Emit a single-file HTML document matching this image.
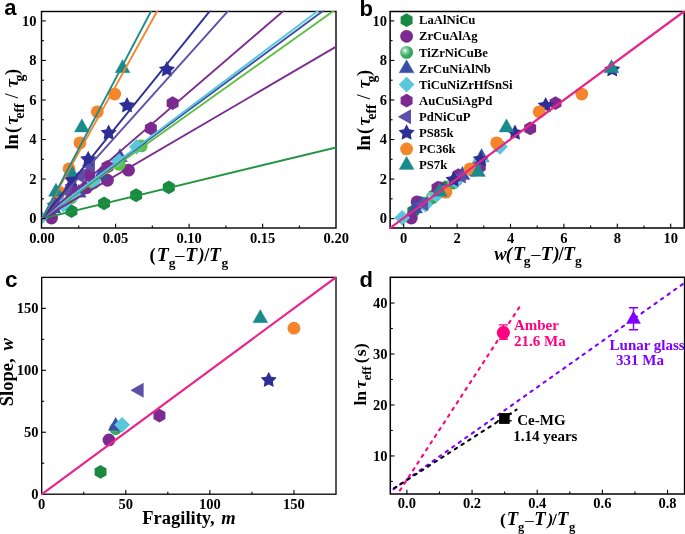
<!DOCTYPE html><html><head><meta charset="utf-8"><style>html,body{margin:0;padding:0;background:#fff;}svg{display:block;will-change:transform;}</style></head><body>
<svg width="685" height="534" viewBox="0 0 685 534">
<defs>
<radialGradient id="sph" cx="0.38" cy="0.36" r="0.7"><stop offset="0" stop-color="#ffffff"/><stop offset="0.25" stop-color="#8fd3a8"/><stop offset="0.6" stop-color="#3aab66"/><stop offset="1" stop-color="#2a9a58"/></radialGradient>
<clipPath id="ca"><rect x="41.5" y="11.5" width="294.5" height="216.5"/></clipPath>
<clipPath id="cb"><rect x="390.1" y="11.5" width="294.1" height="216.5"/></clipPath>
<clipPath id="cc"><rect x="41.7" y="277.4" width="294.3" height="216.8"/></clipPath>
<clipPath id="cd"><rect x="390.3" y="277.3" width="294.3" height="216.7"/></clipPath>
<clipPath id="ca2"><rect x="40.8" y="10.8" width="295.9" height="217.89999999999998"/></clipPath>
<clipPath id="cb2"><rect x="389.40000000000003" y="10.8" width="295.50000000000006" height="217.89999999999998"/></clipPath>
<clipPath id="cc2"><rect x="41.0" y="276.7" width="295.7" height="218.2"/></clipPath>
</defs>
<rect width="685" height="534" fill="#fff"/>
<g clip-path="url(#ca)">
<polygon points="71.42,204.19 65.44,207.64 65.44,214.54 71.42,217.99 77.40,214.54 77.40,207.64" fill="#1a8a42"/>
<polygon points="104.08,196.48 98.10,199.93 98.10,206.83 104.08,210.28 110.05,206.83 110.05,199.93" fill="#1a8a42"/>
<polygon points="136.14,188.37 130.17,191.82 130.17,198.72 136.14,202.17 142.12,198.72 142.12,191.82" fill="#1a8a42"/>
<polygon points="168.80,180.46 162.82,183.91 162.82,190.81 168.80,194.26 174.78,190.81 174.78,183.91" fill="#1a8a42"/>
<circle cx="51.56" cy="218.01" r="6.40" fill="#7b2a8f"/>
<circle cx="58.77" cy="201.80" r="6.40" fill="#7b2a8f"/>
<circle cx="86.42" cy="187.76" r="6.40" fill="#7b2a8f"/>
<circle cx="107.46" cy="180.25" r="6.40" fill="#7b2a8f"/>
<circle cx="128.49" cy="170.16" r="6.40" fill="#7b2a8f"/>
<circle cx="71.42" cy="197.84" r="6.40" fill="#5bbf3f"/>
<circle cx="93.49" cy="183.01" r="6.40" fill="#5bbf3f"/>
<circle cx="119.23" cy="164.43" r="6.40" fill="#5bbf3f"/>
<circle cx="141.29" cy="145.85" r="6.40" fill="#5bbf3f"/>
<polygon points="53.47,199.91 60.97,213.12 45.97,213.12" fill="#3a4ea6" stroke="#3a4ea6" stroke-width="0.3" stroke-linejoin="round"/>
<polygon points="59.65,195.96 67.15,209.16 52.15,209.16" fill="#3a4ea6" stroke="#3a4ea6" stroke-width="0.3" stroke-linejoin="round"/>
<polygon points="78.78,184.10 86.28,197.30 71.28,197.30" fill="#3a4ea6" stroke="#3a4ea6" stroke-width="0.3" stroke-linejoin="round"/>
<polygon points="100.84,166.31 108.34,179.51 93.34,179.51" fill="#3a4ea6" stroke="#3a4ea6" stroke-width="0.3" stroke-linejoin="round"/>
<polygon points="119.96,148.51 127.46,161.71 112.46,161.71" fill="#3a4ea6" stroke="#3a4ea6" stroke-width="0.3" stroke-linejoin="round"/>
<polygon points="40.53,209.91 48.43,217.81 40.53,225.71 32.63,217.81" fill="#5ac6dc"/>
<polygon points="63.33,196.66 71.23,204.56 63.33,212.46 55.43,204.56" fill="#5ac6dc"/>
<polygon points="74.36,186.98 82.26,194.88 74.36,202.78 66.46,194.88" fill="#5ac6dc"/>
<polygon points="93.49,173.14 101.39,181.04 93.49,188.94 85.59,181.04" fill="#5ac6dc"/>
<polygon points="117.90,151.98 125.80,159.88 117.90,167.78 110.00,159.88" fill="#5ac6dc"/>
<polygon points="136.73,138.93 144.63,146.83 136.73,154.73 128.83,146.83" fill="#5ac6dc"/>
<polygon points="71.13,181.06 65.15,184.51 65.15,191.41 71.13,194.86 77.10,191.41 77.10,184.51" fill="#7b2a8f"/>
<polygon points="89.07,168.21 83.10,171.66 83.10,178.56 89.07,182.01 95.05,178.56 95.05,171.66" fill="#7b2a8f"/>
<polygon points="107.46,159.90 101.48,163.35 101.48,170.25 107.46,173.70 113.44,170.25 113.44,163.35" fill="#7b2a8f"/>
<polygon points="150.85,121.55 144.88,125.00 144.88,131.90 150.85,135.35 156.83,131.90 156.83,125.00" fill="#7b2a8f"/>
<polygon points="172.62,96.24 166.65,99.69 166.65,106.59 172.62,110.04 178.60,106.59 178.60,99.69" fill="#7b2a8f"/>
<polygon points="46.44,203.77 59.64,196.27 59.64,211.27" fill="#5e4fa8"/>
<polygon points="58.21,190.92 71.41,183.42 71.41,198.42" fill="#5e4fa8"/>
<polygon points="71.45,176.09 84.65,168.59 84.65,183.59" fill="#5e4fa8"/>
<polygon points="81.74,165.81 94.94,158.31 94.94,173.31" fill="#5e4fa8"/>
<polygon points="71.86,171.35 69.28,176.29 63.78,177.22 67.68,181.21 66.87,186.73 71.86,184.25 76.86,186.73 76.05,181.21 79.95,177.22 74.45,176.29" fill="#2e2f94"/>
<polygon points="88.19,150.79 85.60,155.73 80.11,156.66 84.00,160.65 83.19,166.17 88.19,163.69 93.19,166.17 92.37,160.65 96.27,156.66 90.78,155.73" fill="#2e2f94"/>
<polygon points="108.64,124.50 106.05,129.44 100.55,130.37 104.45,134.36 103.64,139.87 108.64,137.40 113.63,139.87 112.82,134.36 116.72,130.37 111.22,129.44" fill="#2e2f94"/>
<polygon points="127.02,97.02 124.44,101.96 118.94,102.89 122.84,106.88 122.03,112.39 127.02,109.92 132.02,112.39 131.21,106.88 135.11,102.89 129.61,101.96" fill="#2e2f94"/>
<polygon points="166.89,61.03 164.30,65.97 158.80,66.91 162.70,70.89 161.89,76.41 166.89,73.93 171.88,76.41 171.07,70.89 174.97,66.91 169.47,65.97" fill="#2e2f94"/>
<circle cx="59.21" cy="192.11" r="6.40" fill="#f5852a"/>
<circle cx="69.07" cy="168.78" r="6.40" fill="#f5852a"/>
<circle cx="79.95" cy="142.88" r="6.40" fill="#f5852a"/>
<circle cx="97.31" cy="111.84" r="6.40" fill="#f5852a"/>
<circle cx="114.67" cy="94.05" r="6.40" fill="#f5852a"/>
<polygon points="55.97,183.11 63.47,196.31 48.47,196.31" fill="#1b8a8a" stroke="#1b8a8a" stroke-width="0.3" stroke-linejoin="round"/>
<polygon points="70.83,163.34 78.33,176.54 63.33,176.54" fill="#1b8a8a" stroke="#1b8a8a" stroke-width="0.3" stroke-linejoin="round"/>
<polygon points="81.86,118.86 89.36,132.06 74.36,132.06" fill="#1b8a8a" stroke="#1b8a8a" stroke-width="0.3" stroke-linejoin="round"/>
<polygon points="122.61,59.55 130.11,72.75 115.11,72.75" fill="#1b8a8a" stroke="#1b8a8a" stroke-width="0.3" stroke-linejoin="round"/>
</g>
<rect x="41.5" y="11.5" width="294.5" height="216.5" fill="none" stroke="#000" stroke-width="1.4"/>
<g clip-path="url(#ca2)">
<line x1="42.00" y1="218.60" x2="409.75" y2="129.63" stroke="#1f9440" stroke-width="1.9"/>
<line x1="42.00" y1="218.60" x2="409.75" y2="3.60" stroke="#7b2a8f" stroke-width="1.9"/>
<line x1="42.00" y1="218.60" x2="409.75" y2="-43.35" stroke="#5bbf3f" stroke-width="1.9"/>
<line x1="42.00" y1="218.60" x2="409.75" y2="-53.24" stroke="#3a4ea6" stroke-width="1.9"/>
<line x1="42.00" y1="218.60" x2="409.75" y2="-58.18" stroke="#5ac6dc" stroke-width="1.9"/>
<line x1="42.00" y1="218.60" x2="409.75" y2="-97.72" stroke="#7b2a8f" stroke-width="1.9"/>
<line x1="42.00" y1="218.60" x2="409.75" y2="-191.63" stroke="#5e4fa8" stroke-width="1.9"/>
<line x1="42.00" y1="218.60" x2="409.75" y2="-236.11" stroke="#2e2f94" stroke-width="1.9"/>
<line x1="42.00" y1="218.60" x2="409.75" y2="-443.69" stroke="#f5852a" stroke-width="1.9"/>
<line x1="42.00" y1="218.60" x2="409.75" y2="-480.76" stroke="#1b8a8a" stroke-width="1.9"/>
</g>
<line x1="115.55" y1="228.0" x2="115.55" y2="223.8" stroke="#000" stroke-width="1.1"/><line x1="189.10" y1="228.0" x2="189.10" y2="223.8" stroke="#000" stroke-width="1.1"/><line x1="262.65" y1="228.0" x2="262.65" y2="223.8" stroke="#000" stroke-width="1.1"/><line x1="78.78" y1="228.0" x2="78.78" y2="225.5" stroke="#000" stroke-width="1.1"/><line x1="152.32" y1="228.0" x2="152.32" y2="225.5" stroke="#000" stroke-width="1.1"/><line x1="225.88" y1="228.0" x2="225.88" y2="225.5" stroke="#000" stroke-width="1.1"/><line x1="299.43" y1="228.0" x2="299.43" y2="225.5" stroke="#000" stroke-width="1.1"/>
<line x1="41.5" y1="218.60" x2="45.7" y2="218.60" stroke="#000" stroke-width="1.1"/><line x1="41.5" y1="179.06" x2="45.7" y2="179.06" stroke="#000" stroke-width="1.1"/><line x1="41.5" y1="139.52" x2="45.7" y2="139.52" stroke="#000" stroke-width="1.1"/><line x1="41.5" y1="99.98" x2="45.7" y2="99.98" stroke="#000" stroke-width="1.1"/><line x1="41.5" y1="60.44" x2="45.7" y2="60.44" stroke="#000" stroke-width="1.1"/><line x1="41.5" y1="20.90" x2="45.7" y2="20.90" stroke="#000" stroke-width="1.1"/><line x1="41.5" y1="198.83" x2="44.0" y2="198.83" stroke="#000" stroke-width="1.1"/><line x1="41.5" y1="159.29" x2="44.0" y2="159.29" stroke="#000" stroke-width="1.1"/><line x1="41.5" y1="119.75" x2="44.0" y2="119.75" stroke="#000" stroke-width="1.1"/><line x1="41.5" y1="80.21" x2="44.0" y2="80.21" stroke="#000" stroke-width="1.1"/><line x1="41.5" y1="40.67" x2="44.0" y2="40.67" stroke="#000" stroke-width="1.1"/>
<text x="42.00" y="243.00" font-family='"Liberation Serif", serif' font-size="14.5" font-weight="bold" text-anchor="middle" fill="#000" >0.00</text>
<text x="115.55" y="243.00" font-family='"Liberation Serif", serif' font-size="14.5" font-weight="bold" text-anchor="middle" fill="#000" >0.05</text>
<text x="189.10" y="243.00" font-family='"Liberation Serif", serif' font-size="14.5" font-weight="bold" text-anchor="middle" fill="#000" >0.10</text>
<text x="262.65" y="243.00" font-family='"Liberation Serif", serif' font-size="14.5" font-weight="bold" text-anchor="middle" fill="#000" >0.15</text>
<text x="336.20" y="243.00" font-family='"Liberation Serif", serif' font-size="14.5" font-weight="bold" text-anchor="middle" fill="#000" >0.20</text>
<text x="36.50" y="223.20" font-family='"Liberation Serif", serif' font-size="14.5" font-weight="bold" text-anchor="end" fill="#000" >0</text>
<text x="36.50" y="183.66" font-family='"Liberation Serif", serif' font-size="14.5" font-weight="bold" text-anchor="end" fill="#000" >2</text>
<text x="36.50" y="144.12" font-family='"Liberation Serif", serif' font-size="14.5" font-weight="bold" text-anchor="end" fill="#000" >4</text>
<text x="36.50" y="104.58" font-family='"Liberation Serif", serif' font-size="14.5" font-weight="bold" text-anchor="end" fill="#000" >6</text>
<text x="36.50" y="65.04" font-family='"Liberation Serif", serif' font-size="14.5" font-weight="bold" text-anchor="end" fill="#000" >8</text>
<text x="36.50" y="25.50" font-family='"Liberation Serif", serif' font-size="14.5" font-weight="bold" text-anchor="end" fill="#000" >10</text>
<text x="149.39" y="260.60" font-family='"Liberation Serif", serif' font-size="18.5" font-weight="bold" font-style="normal" fill="#000">(</text><text x="156.63" y="260.60" font-family='"Liberation Serif", serif' font-size="19.5" font-weight="bold" font-style="italic" fill="#000">T</text><text x="168.74" y="266.80" font-family='"Liberation Serif", serif' font-size="13.5" font-weight="bold" font-style="normal" fill="#000">g</text><text x="175.33" y="260.60" font-family='"Liberation Serif", serif' font-size="18.5" font-weight="normal" font-style="normal" fill="#000">–</text><text x="185.28" y="260.60" font-family='"Liberation Serif", serif' font-size="19.5" font-weight="bold" font-style="italic" fill="#000">T</text><text x="198.58" y="260.60" font-family='"Liberation Serif", serif' font-size="18.5" font-weight="bold" font-style="italic" fill="#000">)</text><text x="204.18" y="260.60" font-family='"Liberation Serif", serif' font-size="18.5" font-weight="bold" font-style="normal" fill="#000">/</text><text x="209.08" y="260.60" font-family='"Liberation Serif", serif' font-size="19.5" font-weight="bold" font-style="italic" fill="#000">T</text><text x="221.44" y="266.80" font-family='"Liberation Serif", serif' font-size="13.5" font-weight="bold" font-style="normal" fill="#000">g</text>
<text transform="rotate(-90)" x="-149.56" y="18.00" font-family='"Liberation Serif", serif' font-size="18.5" font-weight="bold" font-style="normal" fill="#000">ln</text><text transform="rotate(-90)" x="-132.91" y="18.00" font-family='"Liberation Serif", serif' font-size="18.5" font-weight="bold" font-style="normal" fill="#000">(</text><text transform="rotate(-90)" x="-124.58" y="18.00" font-family='"Liberation Serif", serif' font-size="18.5" font-weight="bold" font-style="italic" fill="#000">τ</text><text transform="rotate(-90)" x="-118.78" y="23.70" font-family='"Liberation Serif", serif' font-size="14" font-weight="bold" font-style="normal" fill="#000">eff</text><text transform="rotate(-90)" x="-98.50" y="18.00" font-family='"Liberation Serif", serif' font-size="18.5" font-weight="normal" font-style="normal" fill="#000">/</text><text transform="rotate(-90)" x="-87.18" y="18.00" font-family='"Liberation Serif", serif' font-size="18.5" font-weight="bold" font-style="italic" fill="#000">τ</text><text transform="rotate(-90)" x="-81.47" y="23.70" font-family='"Liberation Serif", serif' font-size="14" font-weight="bold" font-style="normal" fill="#000">g</text><text transform="rotate(-90)" x="-75.00" y="18.00" font-family='"Liberation Serif", serif' font-size="18.5" font-weight="bold" font-style="normal" fill="#000">)</text>
<text x="4.30" y="15.10" font-family='"Liberation Sans", sans-serif' font-size="22" font-weight="bold" text-anchor="start" fill="#000" >a</text>
<g clip-path="url(#cb)">
<polygon points="413.31,204.19 407.34,207.64 407.34,214.54 413.31,217.99 419.29,214.54 419.29,207.64" fill="#1a8a42"/>
<polygon points="423.98,196.48 418.01,199.93 418.01,206.83 423.98,210.28 429.96,206.83 429.96,199.93" fill="#1a8a42"/>
<polygon points="434.46,188.37 428.48,191.82 428.48,198.72 434.46,202.17 440.43,198.72 440.43,191.82" fill="#1a8a42"/>
<polygon points="445.13,180.46 439.15,183.91 439.15,190.81 445.13,194.26 451.10,190.81 451.10,183.91" fill="#1a8a42"/>
<circle cx="411.34" cy="218.01" r="6.40" fill="#7b2a8f"/>
<circle cx="417.09" cy="201.80" r="6.40" fill="#7b2a8f"/>
<circle cx="439.18" cy="187.76" r="6.40" fill="#7b2a8f"/>
<circle cx="455.98" cy="180.25" r="6.40" fill="#7b2a8f"/>
<circle cx="472.78" cy="170.16" r="6.40" fill="#7b2a8f"/>
<circle cx="432.00" cy="197.84" r="6.40" fill="url(#sph)"/>
<circle cx="453.23" cy="183.01" r="6.40" fill="url(#sph)"/>
<circle cx="477.99" cy="164.43" r="6.40" fill="url(#sph)"/>
<circle cx="499.22" cy="145.85" r="6.40" fill="url(#sph)"/>
<polygon points="415.15,199.91 422.65,213.12 407.65,213.12" fill="#3a4ea6" stroke="#3a4ea6" stroke-width="0.3" stroke-linejoin="round"/>
<polygon points="421.32,195.96 428.82,209.16 413.82,209.16" fill="#3a4ea6" stroke="#3a4ea6" stroke-width="0.3" stroke-linejoin="round"/>
<polygon points="440.41,184.10 447.91,197.30 432.91,197.30" fill="#3a4ea6" stroke="#3a4ea6" stroke-width="0.3" stroke-linejoin="round"/>
<polygon points="462.44,166.31 469.94,179.51 454.94,179.51" fill="#3a4ea6" stroke="#3a4ea6" stroke-width="0.3" stroke-linejoin="round"/>
<polygon points="481.53,148.51 489.03,161.71 474.03,161.71" fill="#3a4ea6" stroke="#3a4ea6" stroke-width="0.3" stroke-linejoin="round"/>
<polygon points="402.20,209.91 410.10,217.81 402.20,225.71 394.30,217.81" fill="#5ac6dc"/>
<polygon points="425.38,196.66 433.28,204.56 425.38,212.46 417.48,204.56" fill="#5ac6dc"/>
<polygon points="436.59,186.98 444.49,194.88 436.59,202.78 428.69,194.88" fill="#5ac6dc"/>
<polygon points="456.03,173.14 463.93,181.04 456.03,188.94 448.13,181.04" fill="#5ac6dc"/>
<polygon points="480.85,151.98 488.75,159.88 480.85,167.78 472.95,159.88" fill="#5ac6dc"/>
<polygon points="499.99,138.93 507.89,146.83 499.99,154.73 492.09,146.83" fill="#5ac6dc"/>
<polygon points="437.53,181.06 431.56,184.51 431.56,191.41 437.53,194.86 443.51,191.41 443.51,184.51" fill="#7b2a8f"/>
<polygon points="458.38,168.21 452.41,171.66 452.41,178.56 458.38,182.01 464.36,178.56 464.36,171.66" fill="#7b2a8f"/>
<polygon points="479.74,159.90 473.77,163.35 473.77,170.25 479.74,173.70 485.72,170.25 485.72,163.35" fill="#7b2a8f"/>
<polygon points="530.15,121.55 524.18,125.00 524.18,131.90 530.15,135.35 536.13,131.90 536.13,125.00" fill="#7b2a8f"/>
<polygon points="555.44,96.24 549.47,99.69 549.47,106.59 555.44,110.04 561.42,106.59 561.42,99.69" fill="#7b2a8f"/>
<polygon points="414.84,203.77 428.04,196.27 428.04,211.27" fill="#5e4fa8"/>
<polygon points="432.57,190.92 445.77,183.42 445.77,198.42" fill="#5e4fa8"/>
<polygon points="452.52,176.09 465.72,168.59 465.72,183.59" fill="#5e4fa8"/>
<polygon points="468.03,165.81 481.23,158.31 481.23,173.31" fill="#5e4fa8"/>
<polygon points="453.56,171.35 450.98,176.29 445.48,177.22 449.38,181.21 448.57,186.73 453.56,184.25 458.56,186.73 457.75,181.21 461.65,177.22 456.15,176.29" fill="#2e2f94"/>
<polygon points="480.83,150.79 478.24,155.73 472.75,156.66 476.65,160.65 475.83,166.17 480.83,163.69 485.83,166.17 485.02,160.65 488.91,156.66 483.42,155.73" fill="#2e2f94"/>
<polygon points="514.97,124.50 512.39,129.44 506.89,130.37 510.79,134.36 509.98,139.87 514.97,137.40 519.97,139.87 519.16,134.36 523.06,130.37 517.56,129.44" fill="#2e2f94"/>
<polygon points="545.68,97.02 543.09,101.96 537.60,102.89 541.50,106.88 540.68,112.39 545.68,109.92 550.68,112.39 549.86,106.88 553.76,102.89 548.27,101.96" fill="#2e2f94"/>
<polygon points="612.25,61.03 609.66,65.97 604.16,66.91 608.06,70.89 607.25,76.41 612.25,73.93 617.24,76.41 616.43,70.89 620.33,66.91 614.83,65.97" fill="#2e2f94"/>
<circle cx="445.87" cy="192.11" r="6.40" fill="#f5852a"/>
<circle cx="470.02" cy="168.78" r="6.40" fill="#f5852a"/>
<circle cx="496.70" cy="142.88" r="6.40" fill="#f5852a"/>
<circle cx="539.23" cy="111.84" r="6.40" fill="#f5852a"/>
<circle cx="581.76" cy="94.05" r="6.40" fill="#f5852a"/>
<polygon points="439.72,183.11 447.22,196.31 432.22,196.31" fill="#1b8a8a" stroke="#1b8a8a" stroke-width="0.3" stroke-linejoin="round"/>
<polygon points="478.01,163.34 485.51,176.54 470.51,176.54" fill="#1b8a8a" stroke="#1b8a8a" stroke-width="0.3" stroke-linejoin="round"/>
<polygon points="506.45,118.86 513.95,132.06 498.95,132.06" fill="#1b8a8a" stroke="#1b8a8a" stroke-width="0.3" stroke-linejoin="round"/>
<polygon points="611.47,59.55 618.97,72.75 603.97,72.75" fill="#1b8a8a" stroke="#1b8a8a" stroke-width="0.3" stroke-linejoin="round"/>
</g>
<rect x="390.1" y="11.5" width="294.1" height="216.5" fill="none" stroke="#000" stroke-width="1.5"/>
<line x1="389.40" y1="228.50" x2="684.70" y2="11.00" stroke="#e9248b" stroke-width="2.2" clip-path="url(#cb2)"/>
<line x1="403.70" y1="228.0" x2="403.70" y2="223.8" stroke="#000" stroke-width="1.1"/><line x1="457.10" y1="228.0" x2="457.10" y2="223.8" stroke="#000" stroke-width="1.1"/><line x1="510.50" y1="228.0" x2="510.50" y2="223.8" stroke="#000" stroke-width="1.1"/><line x1="563.90" y1="228.0" x2="563.90" y2="223.8" stroke="#000" stroke-width="1.1"/><line x1="617.30" y1="228.0" x2="617.30" y2="223.8" stroke="#000" stroke-width="1.1"/><line x1="670.70" y1="228.0" x2="670.70" y2="223.8" stroke="#000" stroke-width="1.1"/><line x1="430.40" y1="228.0" x2="430.40" y2="225.5" stroke="#000" stroke-width="1.1"/><line x1="483.80" y1="228.0" x2="483.80" y2="225.5" stroke="#000" stroke-width="1.1"/><line x1="537.20" y1="228.0" x2="537.20" y2="225.5" stroke="#000" stroke-width="1.1"/><line x1="590.60" y1="228.0" x2="590.60" y2="225.5" stroke="#000" stroke-width="1.1"/><line x1="644.00" y1="228.0" x2="644.00" y2="225.5" stroke="#000" stroke-width="1.1"/>
<line x1="390.1" y1="218.60" x2="394.3" y2="218.60" stroke="#000" stroke-width="1.1"/><line x1="390.1" y1="179.06" x2="394.3" y2="179.06" stroke="#000" stroke-width="1.1"/><line x1="390.1" y1="139.52" x2="394.3" y2="139.52" stroke="#000" stroke-width="1.1"/><line x1="390.1" y1="99.98" x2="394.3" y2="99.98" stroke="#000" stroke-width="1.1"/><line x1="390.1" y1="60.44" x2="394.3" y2="60.44" stroke="#000" stroke-width="1.1"/><line x1="390.1" y1="20.90" x2="394.3" y2="20.90" stroke="#000" stroke-width="1.1"/><line x1="390.1" y1="198.83" x2="392.6" y2="198.83" stroke="#000" stroke-width="1.1"/><line x1="390.1" y1="159.29" x2="392.6" y2="159.29" stroke="#000" stroke-width="1.1"/><line x1="390.1" y1="119.75" x2="392.6" y2="119.75" stroke="#000" stroke-width="1.1"/><line x1="390.1" y1="80.21" x2="392.6" y2="80.21" stroke="#000" stroke-width="1.1"/><line x1="390.1" y1="40.67" x2="392.6" y2="40.67" stroke="#000" stroke-width="1.1"/>
<text x="403.70" y="243.00" font-family='"Liberation Serif", serif' font-size="14.5" font-weight="bold" text-anchor="middle" fill="#000" >0</text>
<text x="387.00" y="223.20" font-family='"Liberation Serif", serif' font-size="14.5" font-weight="bold" text-anchor="end" fill="#000" >0</text>
<text x="457.10" y="243.00" font-family='"Liberation Serif", serif' font-size="14.5" font-weight="bold" text-anchor="middle" fill="#000" >2</text>
<text x="387.00" y="183.66" font-family='"Liberation Serif", serif' font-size="14.5" font-weight="bold" text-anchor="end" fill="#000" >2</text>
<text x="510.50" y="243.00" font-family='"Liberation Serif", serif' font-size="14.5" font-weight="bold" text-anchor="middle" fill="#000" >4</text>
<text x="387.00" y="144.12" font-family='"Liberation Serif", serif' font-size="14.5" font-weight="bold" text-anchor="end" fill="#000" >4</text>
<text x="563.90" y="243.00" font-family='"Liberation Serif", serif' font-size="14.5" font-weight="bold" text-anchor="middle" fill="#000" >6</text>
<text x="387.00" y="104.58" font-family='"Liberation Serif", serif' font-size="14.5" font-weight="bold" text-anchor="end" fill="#000" >6</text>
<text x="617.30" y="243.00" font-family='"Liberation Serif", serif' font-size="14.5" font-weight="bold" text-anchor="middle" fill="#000" >8</text>
<text x="387.00" y="65.04" font-family='"Liberation Serif", serif' font-size="14.5" font-weight="bold" text-anchor="end" fill="#000" >8</text>
<text x="670.70" y="243.00" font-family='"Liberation Serif", serif' font-size="14.5" font-weight="bold" text-anchor="middle" fill="#000" >10</text>
<text x="387.00" y="25.50" font-family='"Liberation Serif", serif' font-size="14.5" font-weight="bold" text-anchor="end" fill="#000" >10</text>
<polygon points="406.60,13.30 400.62,16.75 400.62,23.65 406.60,27.10 412.58,23.65 412.58,16.75" fill="#1a8a42"/>
<text x="419.00" y="24.40" font-family='"Liberation Serif", serif' font-size="12.7" font-weight="bold" text-anchor="start" fill="#000" >LaAlNiCu</text>
<circle cx="406.60" cy="36.29" r="6.40" fill="#7b2a8f"/>
<text x="419.00" y="40.49" font-family='"Liberation Serif", serif' font-size="12.7" font-weight="bold" text-anchor="start" fill="#000" >ZrCuAlAg</text>
<circle cx="406.60" cy="52.38" r="6.40" fill="url(#sph)"/>
<text x="419.00" y="56.58" font-family='"Liberation Serif", serif' font-size="12.7" font-weight="bold" text-anchor="start" fill="#000" >TiZrNiCuBe</text>
<polygon points="406.60,59.67 414.10,72.87 399.10,72.87" fill="#3a4ea6" stroke="#3a4ea6" stroke-width="0.3" stroke-linejoin="round"/>
<text x="419.00" y="72.67" font-family='"Liberation Serif", serif' font-size="12.7" font-weight="bold" text-anchor="start" fill="#000" >ZrCuNiAlNb</text>
<polygon points="406.60,76.66 414.50,84.56 406.60,92.46 398.70,84.56" fill="#5ac6dc"/>
<text x="419.00" y="88.76" font-family='"Liberation Serif", serif' font-size="12.7" font-weight="bold" text-anchor="start" fill="#000" >TiCuNiZrHfSnSi</text>
<polygon points="406.60,93.75 400.62,97.20 400.62,104.10 406.60,107.55 412.58,104.10 412.58,97.20" fill="#7b2a8f"/>
<text x="419.00" y="104.85" font-family='"Liberation Serif", serif' font-size="12.7" font-weight="bold" text-anchor="start" fill="#000" >AuCuSiAgPd</text>
<polygon points="397.80,116.74 411.00,109.24 411.00,124.24" fill="#5e4fa8"/>
<text x="419.00" y="120.94" font-family='"Liberation Serif", serif' font-size="12.7" font-weight="bold" text-anchor="start" fill="#000" >PdNiCuP</text>
<polygon points="406.60,124.33 404.01,129.27 398.52,130.20 402.42,134.19 401.60,139.71 406.60,137.23 411.60,139.71 410.78,134.19 414.68,130.20 409.19,129.27" fill="#2e2f94"/>
<text x="419.00" y="137.03" font-family='"Liberation Serif", serif' font-size="12.7" font-weight="bold" text-anchor="start" fill="#000" >PS85k</text>
<circle cx="406.60" cy="148.92" r="6.40" fill="#f5852a"/>
<text x="419.00" y="153.12" font-family='"Liberation Serif", serif' font-size="12.7" font-weight="bold" text-anchor="start" fill="#000" >PC36k</text>
<polygon points="406.60,156.21 414.10,169.41 399.10,169.41" fill="#1b8a8a" stroke="#1b8a8a" stroke-width="0.3" stroke-linejoin="round"/>
<text x="419.00" y="169.21" font-family='"Liberation Serif", serif' font-size="12.7" font-weight="bold" text-anchor="start" fill="#000" >PS7k</text>
<text x="494.28" y="259.70" font-family='"Liberation Serif", serif' font-size="18.5" font-weight="bold" font-style="italic" fill="#000">w</text><text x="505.79" y="259.70" font-family='"Liberation Serif", serif' font-size="18.5" font-weight="bold" font-style="italic" fill="#000">(</text><text x="512.98" y="259.70" font-family='"Liberation Serif", serif' font-size="19.5" font-weight="bold" font-style="italic" fill="#000">T</text><text x="523.84" y="265.00" font-family='"Liberation Serif", serif' font-size="13.5" font-weight="bold" font-style="normal" fill="#000">g</text><text x="531.33" y="259.70" font-family='"Liberation Serif", serif' font-size="18.5" font-weight="normal" font-style="normal" fill="#000">–</text><text x="540.68" y="259.70" font-family='"Liberation Serif", serif' font-size="19.5" font-weight="bold" font-style="italic" fill="#000">T</text><text x="553.58" y="259.70" font-family='"Liberation Serif", serif' font-size="18.5" font-weight="bold" font-style="italic" fill="#000">)</text><text x="558.48" y="259.70" font-family='"Liberation Serif", serif' font-size="18.5" font-weight="bold" font-style="normal" fill="#000">/</text><text x="563.08" y="259.70" font-family='"Liberation Serif", serif' font-size="19.5" font-weight="bold" font-style="italic" fill="#000">T</text><text x="575.04" y="265.00" font-family='"Liberation Serif", serif' font-size="13.5" font-weight="bold" font-style="normal" fill="#000">g</text>
<text transform="rotate(-90)" x="-150.56" y="370.40" font-family='"Liberation Serif", serif' font-size="18.5" font-weight="bold" font-style="normal" fill="#000">ln</text><text transform="rotate(-90)" x="-133.91" y="370.40" font-family='"Liberation Serif", serif' font-size="18.5" font-weight="bold" font-style="normal" fill="#000">(</text><text transform="rotate(-90)" x="-125.58" y="370.40" font-family='"Liberation Serif", serif' font-size="18.5" font-weight="bold" font-style="italic" fill="#000">τ</text><text transform="rotate(-90)" x="-119.78" y="376.10" font-family='"Liberation Serif", serif' font-size="14" font-weight="bold" font-style="normal" fill="#000">eff</text><text transform="rotate(-90)" x="-99.50" y="370.40" font-family='"Liberation Serif", serif' font-size="18.5" font-weight="normal" font-style="normal" fill="#000">/</text><text transform="rotate(-90)" x="-88.18" y="370.40" font-family='"Liberation Serif", serif' font-size="18.5" font-weight="bold" font-style="italic" fill="#000">τ</text><text transform="rotate(-90)" x="-82.47" y="376.10" font-family='"Liberation Serif", serif' font-size="14" font-weight="bold" font-style="normal" fill="#000">g</text><text transform="rotate(-90)" x="-76.00" y="370.40" font-family='"Liberation Serif", serif' font-size="18.5" font-weight="bold" font-style="normal" fill="#000">)</text>
<text x="359.50" y="15.50" font-family='"Liberation Sans", sans-serif' font-size="22" font-weight="bold" text-anchor="start" fill="#000" >b</text>
<g clip-path="url(#cc)">
<polygon points="100.56,465.00 94.58,468.45 94.58,475.35 100.56,478.80 106.54,475.35 106.54,468.45" fill="#1a8a42"/>
<circle cx="108.97" cy="439.94" r="6.40" fill="#7b2a8f"/>
<circle cx="115.69" cy="428.54" r="6.40" fill="url(#sph)"/>
<polygon points="115.69,417.26 123.19,430.46 108.19,430.46" fill="#3a4ea6" stroke="#3a4ea6" stroke-width="0.3" stroke-linejoin="round"/>
<polygon points="122.09,416.92 129.99,424.82 122.09,432.72 114.19,424.82" fill="#5ac6dc"/>
<polygon points="159.42,408.63 153.44,412.08 153.44,418.98 159.42,422.43 165.39,418.98 165.39,412.08" fill="#7b2a8f"/>
<polygon points="130.44,390.13 143.64,382.63 143.64,397.63" fill="#5e4fa8"/>
<polygon points="268.73,371.72 266.14,376.66 260.65,377.59 264.54,381.58 263.73,387.10 268.73,384.62 273.73,387.10 272.91,381.58 276.81,377.59 271.32,376.66" fill="#2e2f94"/>
<circle cx="293.95" cy="328.19" r="6.40" fill="#f5852a"/>
<polygon points="260.32,309.48 267.82,322.68 252.82,322.68" fill="#1b8a8a" stroke="#1b8a8a" stroke-width="0.3" stroke-linejoin="round"/>
</g>
<rect x="41.7" y="277.4" width="294.3" height="216.8" fill="none" stroke="#000" stroke-width="1.3"/>
<line x1="41.20" y1="494.70" x2="336.50" y2="276.90" stroke="#e9248b" stroke-width="2.2" clip-path="url(#cc2)"/>
<line x1="125.78" y1="494.2" x2="125.78" y2="490.0" stroke="#000" stroke-width="1.1"/><line x1="209.87" y1="494.2" x2="209.87" y2="490.0" stroke="#000" stroke-width="1.1"/><line x1="293.95" y1="494.2" x2="293.95" y2="490.0" stroke="#000" stroke-width="1.1"/><line x1="83.74" y1="494.2" x2="83.74" y2="491.7" stroke="#000" stroke-width="1.1"/><line x1="167.83" y1="494.2" x2="167.83" y2="491.7" stroke="#000" stroke-width="1.1"/><line x1="251.91" y1="494.2" x2="251.91" y2="491.7" stroke="#000" stroke-width="1.1"/>
<line x1="41.7" y1="432.25" x2="45.900000000000006" y2="432.25" stroke="#000" stroke-width="1.1"/><line x1="41.7" y1="370.31" x2="45.900000000000006" y2="370.31" stroke="#000" stroke-width="1.1"/><line x1="41.7" y1="308.37" x2="45.900000000000006" y2="308.37" stroke="#000" stroke-width="1.1"/><line x1="41.7" y1="463.23" x2="44.2" y2="463.23" stroke="#000" stroke-width="1.1"/><line x1="41.7" y1="401.28" x2="44.2" y2="401.28" stroke="#000" stroke-width="1.1"/><line x1="41.7" y1="339.34" x2="44.2" y2="339.34" stroke="#000" stroke-width="1.1"/>
<text x="41.70" y="508.50" font-family='"Liberation Serif", serif' font-size="14.5" font-weight="bold" text-anchor="middle" fill="#000" >0</text>
<text x="38.50" y="499.00" font-family='"Liberation Serif", serif' font-size="14.5" font-weight="bold" text-anchor="end" fill="#000" >0</text>
<text x="125.78" y="508.50" font-family='"Liberation Serif", serif' font-size="14.5" font-weight="bold" text-anchor="middle" fill="#000" >50</text>
<text x="38.50" y="437.06" font-family='"Liberation Serif", serif' font-size="14.5" font-weight="bold" text-anchor="end" fill="#000" >50</text>
<text x="209.87" y="508.50" font-family='"Liberation Serif", serif' font-size="14.5" font-weight="bold" text-anchor="middle" fill="#000" >100</text>
<text x="38.50" y="375.11" font-family='"Liberation Serif", serif' font-size="14.5" font-weight="bold" text-anchor="end" fill="#000" >100</text>
<text x="293.95" y="508.50" font-family='"Liberation Serif", serif' font-size="14.5" font-weight="bold" text-anchor="middle" fill="#000" >150</text>
<text x="38.50" y="313.17" font-family='"Liberation Serif", serif' font-size="14.5" font-weight="bold" text-anchor="end" fill="#000" >150</text>
<text x="142.28" y="523.50" font-family='"Liberation Serif", serif' font-size="18.5" font-weight="bold" font-style="normal" fill="#000">Fragility,</text><text x="221.25" y="523.50" font-family='"Liberation Serif", serif' font-size="18.5" font-weight="bold" font-style="italic" fill="#000">m</text>
<text transform="rotate(-90)" x="-406.18" y="13.10" font-family='"Liberation Serif", serif' font-size="18.5" font-weight="bold" font-style="normal" fill="#000">Slope,</text><text transform="rotate(-90)" x="-350.47" y="13.10" font-family='"Liberation Serif", serif' font-size="18.5" font-weight="bold" font-style="italic" fill="#000">w</text>
<text x="5.00" y="286.80" font-family='"Liberation Sans", sans-serif' font-size="22.5" font-weight="bold" text-anchor="start" fill="#000" >c</text>
<g clip-path="url(#cd)">
<line x1="390.50" y1="491.20" x2="684.60" y2="282.80" stroke="#8000ff" stroke-width="2.1" stroke-dasharray="2.5 5.5" stroke-dashoffset="4.35" stroke-linecap="round"/>
<line x1="393.00" y1="489.00" x2="516.50" y2="409.60" stroke="#000" stroke-width="2.1" stroke-dasharray="2.5 5.5" stroke-dashoffset="6.52" stroke-linecap="round"/>
<line x1="399.80" y1="490.60" x2="519.70" y2="306.70" stroke="#ff0080" stroke-width="2.1" stroke-dasharray="2.5 5.5" stroke-dashoffset="7.79" stroke-linecap="round"/>
</g>
<circle cx="503.40" cy="332.60" r="6.6" fill="#ff0080"/>
<path d="M503.40,324.9V339.3M498.90,324.9h9M498.90,339.3h9" stroke="#ff0080" stroke-width="1.4" fill="none"/>
<polygon points="633.50,311.04 640.62,323.58 626.38,323.58" fill="#8000ff" stroke="#8000ff" stroke-width="0.3" stroke-linejoin="round"/>
<path d="M633.50,307.8V329.7M628.90,307.8h9.2M628.90,329.7h9.2" stroke="#8000ff" stroke-width="1.4" fill="none"/>
<rect x="499.10" y="413.10" width="10.6" height="10.8" fill="#000"/>
<path d="M508.40,414.30h3.2M508.40,420.80h3.2M497.40,420.80h3" stroke="#000" stroke-width="1.6"/>
<rect x="390.3" y="277.3" width="294.3" height="216.7" fill="none" stroke="#000" stroke-width="1.5"/>
<line x1="406.90" y1="494.0" x2="406.90" y2="489.8" stroke="#000" stroke-width="1.1"/><line x1="472.06" y1="494.0" x2="472.06" y2="489.8" stroke="#000" stroke-width="1.1"/><line x1="537.22" y1="494.0" x2="537.22" y2="489.8" stroke="#000" stroke-width="1.1"/><line x1="602.38" y1="494.0" x2="602.38" y2="489.8" stroke="#000" stroke-width="1.1"/><line x1="667.54" y1="494.0" x2="667.54" y2="489.8" stroke="#000" stroke-width="1.1"/><line x1="439.48" y1="494.0" x2="439.48" y2="491.5" stroke="#000" stroke-width="1.1"/><line x1="504.64" y1="494.0" x2="504.64" y2="491.5" stroke="#000" stroke-width="1.1"/><line x1="569.80" y1="494.0" x2="569.80" y2="491.5" stroke="#000" stroke-width="1.1"/><line x1="634.96" y1="494.0" x2="634.96" y2="491.5" stroke="#000" stroke-width="1.1"/>
<line x1="390.3" y1="455.94" x2="394.5" y2="455.94" stroke="#000" stroke-width="1.1"/><line x1="390.3" y1="404.97" x2="394.5" y2="404.97" stroke="#000" stroke-width="1.1"/><line x1="390.3" y1="354.00" x2="394.5" y2="354.00" stroke="#000" stroke-width="1.1"/><line x1="390.3" y1="303.03" x2="394.5" y2="303.03" stroke="#000" stroke-width="1.1"/><line x1="390.3" y1="481.43" x2="392.8" y2="481.43" stroke="#000" stroke-width="1.1"/><line x1="390.3" y1="430.46" x2="392.8" y2="430.46" stroke="#000" stroke-width="1.1"/><line x1="390.3" y1="379.49" x2="392.8" y2="379.49" stroke="#000" stroke-width="1.1"/><line x1="390.3" y1="328.51" x2="392.8" y2="328.51" stroke="#000" stroke-width="1.1"/>
<text x="406.90" y="508.30" font-family='"Liberation Serif", serif' font-size="14.5" font-weight="bold" text-anchor="middle" fill="#000" >0.0</text>
<text x="472.06" y="508.30" font-family='"Liberation Serif", serif' font-size="14.5" font-weight="bold" text-anchor="middle" fill="#000" >0.2</text>
<text x="537.22" y="508.30" font-family='"Liberation Serif", serif' font-size="14.5" font-weight="bold" text-anchor="middle" fill="#000" >0.4</text>
<text x="602.38" y="508.30" font-family='"Liberation Serif", serif' font-size="14.5" font-weight="bold" text-anchor="middle" fill="#000" >0.6</text>
<text x="667.54" y="508.30" font-family='"Liberation Serif", serif' font-size="14.5" font-weight="bold" text-anchor="middle" fill="#000" >0.8</text>
<text x="387.60" y="460.64" font-family='"Liberation Serif", serif' font-size="14.5" font-weight="bold" text-anchor="end" fill="#000" >10</text>
<text x="387.60" y="409.67" font-family='"Liberation Serif", serif' font-size="14.5" font-weight="bold" text-anchor="end" fill="#000" >20</text>
<text x="387.60" y="358.70" font-family='"Liberation Serif", serif' font-size="14.5" font-weight="bold" text-anchor="end" fill="#000" >30</text>
<text x="387.60" y="307.73" font-family='"Liberation Serif", serif' font-size="14.5" font-weight="bold" text-anchor="end" fill="#000" >40</text>
<text x="513.95" y="330.20" font-family='"Liberation Serif", serif' font-size="15" font-weight="bold" font-style="normal" fill="#ff0080">Amber</text><text x="514.07" y="345.80" font-family='"Liberation Serif", serif' font-size="15" font-weight="bold" font-style="normal" fill="#ff0080">21.6 Ma</text>
<text x="609.54" y="349.90" font-family='"Liberation Serif", serif' font-size="15" font-weight="bold" font-style="normal" fill="#8000ff">Lunar glass</text><text x="616.04" y="365.10" font-family='"Liberation Serif", serif' font-size="15" font-weight="bold" font-style="normal" fill="#8000ff">331 Ma</text>
<text x="517.27" y="425.10" font-family='"Liberation Serif", serif' font-size="15" font-weight="bold" font-style="normal" fill="#000">Ce-MG</text><text x="513.30" y="440.90" font-family='"Liberation Serif", serif' font-size="15" font-weight="bold" font-style="normal" fill="#000">1.14 years</text>
<text x="500.03" y="525.40" font-family='"Liberation Serif", serif' font-size="17.6" font-weight="bold" font-style="normal" fill="#000">(</text><text x="506.75" y="525.40" font-family='"Liberation Serif", serif' font-size="18.6" font-weight="bold" font-style="italic" fill="#000">T</text><text x="517.97" y="530.60" font-family='"Liberation Serif", serif' font-size="12.5" font-weight="bold" font-style="normal" fill="#000">g</text><text x="525.02" y="525.40" font-family='"Liberation Serif", serif' font-size="17.6" font-weight="normal" font-style="normal" fill="#000">–</text><text x="534.25" y="525.40" font-family='"Liberation Serif", serif' font-size="18.6" font-weight="bold" font-style="italic" fill="#000">T</text><text x="547.41" y="525.40" font-family='"Liberation Serif", serif' font-size="17.6" font-weight="bold" font-style="italic" fill="#000">)</text><text x="551.97" y="525.40" font-family='"Liberation Serif", serif' font-size="17.6" font-weight="bold" font-style="normal" fill="#000">/</text><text x="556.95" y="525.40" font-family='"Liberation Serif", serif' font-size="18.6" font-weight="bold" font-style="italic" fill="#000">T</text><text x="568.97" y="530.60" font-family='"Liberation Serif", serif' font-size="12.5" font-weight="bold" font-style="normal" fill="#000">g</text>
<text transform="rotate(-90)" x="-405.54" y="365.70" font-family='"Liberation Serif", serif' font-size="17.6" font-weight="bold" font-style="normal" fill="#000">ln</text><text transform="rotate(-90)" x="-388.16" y="365.70" font-family='"Liberation Serif", serif' font-size="17.6" font-weight="bold" font-style="italic" fill="#000">τ</text><text transform="rotate(-90)" x="-380.33" y="371.20" font-family='"Liberation Serif", serif' font-size="12.5" font-weight="bold" font-style="normal" fill="#000">eff</text><text transform="rotate(-90)" x="-363.27" y="365.70" font-family='"Liberation Serif", serif' font-size="17.6" font-weight="bold" font-style="normal" fill="#000">(</text><text transform="rotate(-90)" x="-356.13" y="365.70" font-family='"Liberation Serif", serif' font-size="17.6" font-weight="bold" font-style="normal" fill="#000">s</text><text transform="rotate(-90)" x="-348.97" y="365.70" font-family='"Liberation Serif", serif' font-size="17.6" font-weight="bold" font-style="normal" fill="#000">)</text>
<text x="359.50" y="287.00" font-family='"Liberation Sans", sans-serif' font-size="22" font-weight="bold" text-anchor="start" fill="#000" >d</text>
</svg></body></html>
